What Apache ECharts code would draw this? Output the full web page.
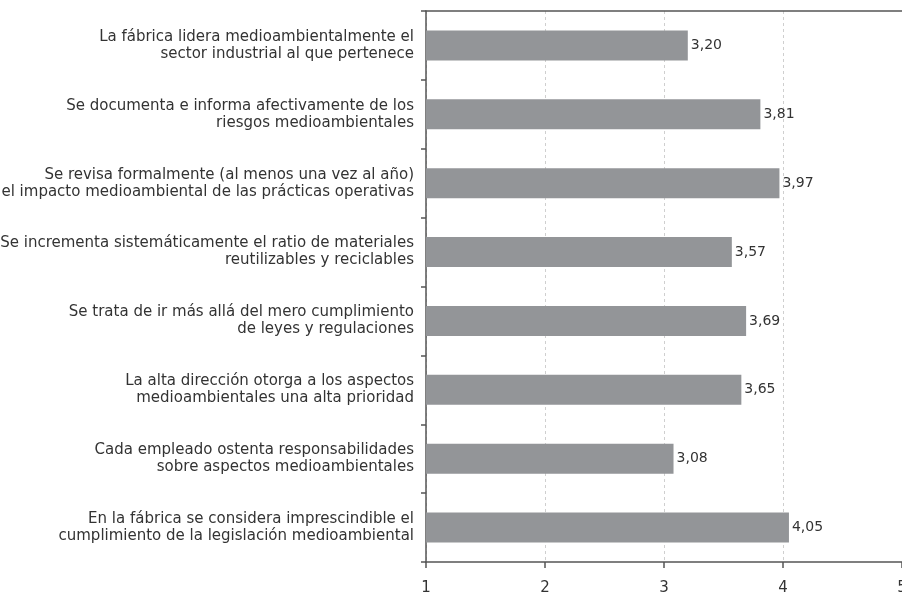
<!DOCTYPE html>
<html>
<head>
<meta charset="utf-8">
<script src="https://cdn.jsdelivr.net/npm/echarts@6/dist/echarts.min.js"></script>
<style>
  html, body { margin: 0; padding: 0; background: #fff; }
  #chart { width: 902px; height: 596px; }
</style>
</head>
<body>
<div id="chart"></div>
<script>
// Survey statements (top to bottom) and their mean scores on a 1–5 scale
const categories = [
  'La fábrica lidera medioambientalmente el\nsector industrial al que pertenece',
  'Se documenta e informa afectivamente de los\nriesgos medioambientales',
  'Se revisa formalmente (al menos una vez al año)\nel impacto medioambiental de las prácticas operativas',
  'Se incrementa sistemáticamente el ratio de materiales\nreutilizables y reciclables',
  'Se trata de ir más allá del mero cumplimiento\nde leyes y regulaciones',
  'La alta dirección otorga a los aspectos\nmedioambientales una alta prioridad',
  'Cada empleado ostenta responsabilidades\nsobre aspectos medioambientales',
  'En la fábrica se considera imprescindible el\ncumplimiento de la legislación medioambiental'
];
const scores = [3.20, 3.81, 3.97, 3.57, 3.69, 3.65, 3.08, 4.05];
const xTicks = [1, 2, 3, 4, 5];

const FONT = 'DejaVu Sans';
const chart = echarts.init(document.getElementById('chart'), null, { renderer: 'canvas' });

chart.setOption({
  animation: false,
  textStyle: { fontFamily: FONT },
  grid: {
    left: 426, right: 0, top: 11, bottom: 34,
    containLabel: false,
    outerBoundsMode: 'none'
  },
  xAxis: [
    {
      type: 'value',
      min: xTicks[0],
      max: xTicks[xTicks.length - 1],
      interval: 1,
      position: 'bottom',
      axisLine: { show: true, lineStyle: { color: '#555', width: 1.5 } },
      axisTick: { show: true, inside: false, length: 6, lineStyle: { color: '#555', width: 1.5 } },
      axisLabel: { color: '#333', fontSize: 15, fontFamily: FONT, margin: 19, hideOverlap: false },
      splitLine: { show: true, lineStyle: { color: '#cfcfcf', type: [3, 3], width: 1 } }
    },
    {
      type: 'value',
      min: xTicks[0],
      max: xTicks[xTicks.length - 1],
      interval: 1,
      position: 'top',
      axisLine: { show: true, lineStyle: { color: '#555', width: 1.5 } },
      axisTick: { show: false },
      axisLabel: { show: false },
      splitLine: { show: false }
    }
  ],
  yAxis: {
    type: 'category',
    data: categories,
    inverse: true,
    axisLine: { show: true, lineStyle: { color: '#555', width: 1.5 } },
    axisTick: { show: true, length: 5, lineStyle: { color: '#555', width: 1.5 } },
    axisLabel: {
      color: '#333',
      fontSize: 15,
      fontFamily: FONT,
      lineHeight: 17,
      align: 'right',
      margin: 12
    },
    splitLine: { show: false }
  },
  series: [
    {
      type: 'bar',
      xAxisIndex: 0,
      data: scores,
      barWidth: 30,
      itemStyle: { color: '#939598' },
      label: {
        show: true,
        position: 'right',
        distance: 3,
        color: '#333',
        fontSize: 14,
        fontFamily: FONT,
        formatter: p => p.value.toFixed(2).replace('.', ',')
      }
    }
  ]
});
</script>
</body>
</html>
